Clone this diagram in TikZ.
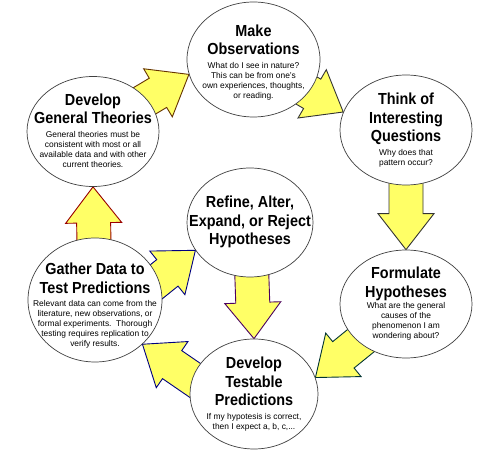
\documentclass[tikz,border=0pt]{standalone}
\usepackage{fontspec}
\setmainfont{Liberation Sans}
\newfontfamily\headfont[FakeStretch=0.9]{Liberation Sans}
\usepackage{tikz}
\usetikzlibrary{calc,positioning,shapes.geometric}
\definecolor{arrowyellow}{HTML}{FFFF66}
\definecolor{arrowbrown}{HTML}{663300}
\definecolor{arrowgray}{HTML}{333333}
\definecolor{arrowteal}{HTML}{003333}
\definecolor{arrownavy}{HTML}{000080}
\definecolor{arrowpurple}{HTML}{4B0060}
\definecolor{arrowred}{HTML}{990000}
\definecolor{outlinegray}{HTML}{404040}

\pgfdeclarelayer{back}
\pgfsetlayers{back,main}

\tikzset{
    stage/.style={ellipse, draw=outlinegray, line width=0.7pt, fill=white, inner sep=0pt},
    stagetext/.style={inner sep=0pt, align=center},
    arrowbody/.style={fill=arrowyellow, line width=0.9pt, line join=miter}
}

% block arrow: #1 outline colour, #2 start, #3 tip
\newcommand{\bigarrow}[3]{%
    \coordinate (ba-s) at #2;
    \coordinate (ba-t) at #3;
    \coordinate (ba-m) at ($(ba-t)!36pt!(ba-s)$);
    \filldraw[arrowbody, draw=#1] ($(ba-s)!17pt!90:(ba-t)$) -- ($(ba-m)!17pt!90:(ba-t)$)
        -- ($(ba-m)!28pt!90:(ba-t)$) -- (ba-t) -- ($(ba-m)!28pt!-90:(ba-t)$)
        -- ($(ba-m)!17pt!-90:(ba-t)$) -- ($(ba-s)!17pt!-90:(ba-t)$) -- cycle;
}
\newcommand{\stagetitle}[1]{{\headfont\bfseries\fontsize{16}{18.5}\selectfont\begin{tabular}{@{}c@{}}#1\end{tabular}}}
\newcommand{\stagebody}[1]{{\fontsize{8.4}{10}\selectfont\begin{tabular}{@{}c@{}}#1\end{tabular}}}

\begin{document}
\begin{tikzpicture}[x=1pt, y=1pt]
    \useasboundingbox (0,0) rectangle (500,460);

    % Stages of the cycle
    \node[stage, minimum width=133pt, minimum height=115pt] (observ) at (253.5,400.5) {};
    \node[stagetext] (observ-text) at ([yshift=-3pt]observ.center)
        {\stagetitle{Make\\Observations}\\[0pt]\stagebody{What do I see in nature?\\This can be from one's\\own experiences, thoughts,\\or reading.}};

    \node[stage, minimum width=132pt, minimum height=110pt] (quest) at (406,330) {};
    \node[stagetext] (quest-text) at (quest.center)
        {\stagetitle{Think of\\Interesting\\Questions}\\[0pt]\stagebody{Why does that\\pattern occur?}};

    \node[stage, minimum width=132pt, minimum height=108pt] (hypoth) at (406,156) {};
    \node[stagetext] (hypoth-text) at (hypoth.center)
        {\stagetitle{Formulate\\Hypotheses}\\[-2pt]\stagebody{What are the general\\causes of the\\phenomenon I am\\wondering about?}};

    \node[stage, minimum width=128pt, minimum height=110pt] (predict) at (254,66) {};
    \node[stagetext] (predict-text) at (predict.center)
        {\stagetitle{Develop\\Testable\\Predictions}\\[0pt]\stagebody{If my hypotesis is correct,\\then I expect a, b, c,...}};

    \node[stage, minimum width=134pt, minimum height=124pt] (gather) at (95,160) {};
    \node[stagetext] (gather-text) at ([yshift=-6pt]gather.center)
        {\stagetitle{Gather Data to\\Test Predictions}\\[0pt]\stagebody{Relevant data can come from the\\literature, new observations, or\\formal experiments.\ \ Thorough\\testing requires replication to\\verify results.}};

    \node[stage, minimum width=126pt, minimum height=109pt] (refine) at (250,237.5) {};
    \node[stagetext] (refine-text) at (refine.center)
        {\stagetitle{Refine, Alter,\\Expand, or Reject\\Hypotheses}};

    \node[stage, minimum width=132pt, minimum height=110pt] (theory) at (93,328.5) {};
    \node[stagetext] (theory-text) at (theory.center)
        {\stagetitle{Develop\\General Theories}\\[0pt]\stagebody{General theories must be\\consistent with most or all\\available data and with other\\current theories.}};

    % Block arrows behind the ellipses
    \begin{pgfonlayer}{back}
        \fill[white] (0,0) rectangle (500,460);
        \bigarrow{arrowbrown}{(theory.center)}{(observ.193)}
        \bigarrow{arrowgray}{(observ.center)}{(quest.164)}
        \bigarrow{arrowgray}{(quest.center)}{(hypoth.north)}
        \bigarrow{arrowteal}{(hypoth.center)}{(predict.15)}
        \bigarrow{arrownavy}{($(predict.center)+(-10,-20)$)}{(gather.-43)}
        \bigarrow{arrownavy}{($(gather.center)+(20,-15)$)}{(refine.207)}
        \bigarrow{arrowpurple}{(refine.center)}{(predict.north)}
        \bigarrow{arrowred}{(gather.center)}{(theory.south)}
    \end{pgfonlayer}
\end{tikzpicture}
\end{document}
